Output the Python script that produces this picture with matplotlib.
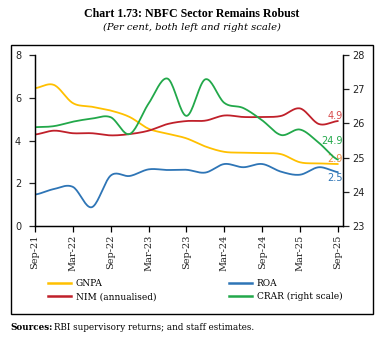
import numpy as np
import matplotlib
matplotlib.use("Agg")
import matplotlib.pyplot as plt
from matplotlib.patches import Rectangle
from matplotlib.lines import Line2D

quarters = ["Sep-21", "Dec-21", "Mar-22", "Jun-22", "Sep-22", "Dec-22", "Mar-23", "Jun-23",
            "Sep-23", "Dec-23", "Mar-24", "Jun-24", "Sep-24", "Dec-24", "Mar-25", "Jun-25", "Sep-25"]
gnpa = [6.45, 6.6, 5.75, 5.58, 5.4, 5.1, 4.55, 4.32, 4.1, 3.72, 3.47, 3.43, 3.41, 3.36, 2.98, 2.93, 2.9]
roa = [1.47, 1.73, 1.83, 0.88, 2.36, 2.34, 2.65, 2.62, 2.63, 2.5, 2.9, 2.75, 2.9, 2.54, 2.4, 2.75, 2.52]
nim = [4.28, 4.46, 4.34, 4.34, 4.24, 4.3, 4.46, 4.77, 4.91, 4.93, 5.17, 5.1, 5.1, 5.15, 5.5, 4.77, 4.91]
crar = [25.89, 25.92, 26.05, 26.14, 26.18, 25.69, 26.58, 27.31, 26.22, 27.29, 26.6, 26.45, 26.09, 25.66, 25.82, 25.43, 24.94]
tick_labels = ["Sep-21", "Mar-22", "Sep-22", "Mar-23", "Sep-23", "Mar-24", "Sep-24", "Mar-25", "Sep-25"]

C_Y = "#FFC000"
C_B = "#2E75B6"
C_R = "#C0202A"
C_G = "#22A84A"

def smooth(y, n=20):
    y = np.asarray(y, float)
    x = np.arange(len(y), dtype=float)
    P = np.concatenate([[y[0]], y, [y[-1]]])
    X = np.concatenate([[x[0] - 1], x, [x[-1] + 1]])
    xs, ys = [], []
    for i in range(1, len(P) - 2):
        t = np.linspace(0, 1, n, endpoint=False)
        for arr, out in ((X, xs), (P, ys)):
            p0, p1, p2, p3 = arr[i - 1], arr[i], arr[i + 1], arr[i + 2]
            v = 0.5 * ((2 * p1) + (-p0 + p2) * t + (2 * p0 - 5 * p1 + 4 * p2 - p3) * t ** 2
                       + (-p0 + 3 * p1 - 3 * p2 + p3) * t ** 3)
            out.extend(v)
    xs.append(x[-1]); ys.append(y[-1])
    return np.array(xs), np.array(ys)

W, H = 385, 348
fig = plt.figure(figsize=(W / 100, H / 100), dpi=100)
fig.patches.append(Rectangle((11 / W, 1 - 314 / H), 362 / W, 269 / H, transform=fig.transFigure,
                             fill=False, edgecolor="black", linewidth=1.0))

ax = fig.add_axes([35 / W, 1 - 226 / H, (343 - 35) / W, (226 - 55) / H])
ax2 = ax.twinx()

lw = 1.3
for data, c in ((gnpa, C_Y), (roa, C_B), (nim, C_R)):
    xs, ys = smooth(data)
    ax.plot(xs, ys, color=c, lw=lw, solid_capstyle="round")
xs, ys = smooth(crar)
ax2.plot(xs, ys, color=C_G, lw=lw, solid_capstyle="round")

ax.set_xlim(0, 16.27)
ax.set_ylim(0, 8)
ax2.set_ylim(23, 28)
ax.set_yticks([0, 2, 4, 6, 8])
ax2.set_yticks([23, 24, 25, 26, 27, 28])
tick_pos = [quarters.index(t) for t in tick_labels]
ax.set_xticks(tick_pos)
ax.set_xticklabels(tick_labels, rotation=90, family="DejaVu Serif", fontsize=7, color="#222222")

for a in (ax, ax2):
    a.spines["top"].set_visible(False)
    for s in a.spines.values():
        s.set_linewidth(0.9)
ax.tick_params(axis="y", direction="out", length=4, width=0.9, labelsize=7, colors="#222222", pad=6)
ax2.tick_params(axis="y", direction="out", length=4, width=0.9, labelsize=7, colors="#222222", pad=3)
ax.tick_params(axis="x", direction="out", length=4, width=0.9, pad=2)
for lab in ax.get_yticklabels() + ax2.get_yticklabels():
    lab.set_family("DejaVu Sans")

# end labels
ax.text(16.27, 5.15, "4.9", color="#D84A4A", fontsize=7, ha="right", va="center", family="DejaVu Sans")
ax.text(16.27, 4.0, "24.9", color=C_G, fontsize=7, ha="right", va="center", family="DejaVu Sans")
ax.text(16.27, 3.14, "2.9", color="#F08C3C", fontsize=7, ha="right", va="center", family="DejaVu Sans")
ax.text(16.27, 2.25, "2.5", color=C_B, fontsize=7, ha="right", va="center", family="DejaVu Sans")

# title
fig.text(192 / W, 1 - 14 / H, "Chart 1.73: NBFC Sector Remains Robust", ha="center", va="center",
         fontsize=8.6, fontweight="bold", family="Liberation Serif")
fig.text(192 / W, 1 - 27 / H, "(Per cent, both left and right scale)", ha="center", va="center",
         fontsize=7.2, style="italic", family="DejaVu Serif")

# legend
handles = [Line2D([], [], color=C_Y, lw=1.8), Line2D([], [], color=C_R, lw=1.8),
           Line2D([], [], color=C_B, lw=1.8), Line2D([], [], color=C_G, lw=1.8)]
labels = ["GNPA", "NIM (annualised)", "ROA", "CRAR (right scale)"]
fig.legend(handles, labels, ncol=2, loc="upper left", bbox_to_anchor=(48 / W, 1 - 279 / H),
           frameon=False, prop={"family": "DejaVu Serif", "size": 6.5}, handlelength=2.6,
           handletextpad=0.5, columnspacing=8.0, labelspacing=0.45, borderaxespad=0, borderpad=0)

# sources
t1 = fig.text(10 / W, 1 - 328 / H, "Sources:", ha="left", va="center", fontsize=6.3,
              fontweight="bold", family="DejaVu Serif")
fig.canvas.draw()
bb = t1.get_window_extent()
fig.text(bb.x1 / W + 2 / W, 1 - 328 / H, "RBI supervisory returns; and staff estimates.", ha="left",
         va="center", fontsize=6.3, family="DejaVu Serif")

fig.savefig("out.png", dpi=100)
